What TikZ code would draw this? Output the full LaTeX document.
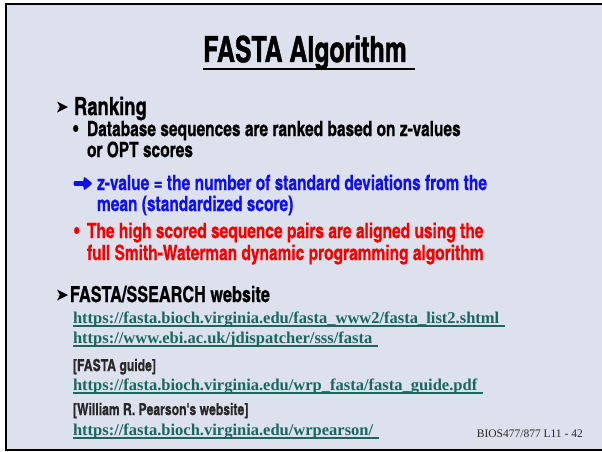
\documentclass[tikz,border=0pt]{standalone}
\usepackage{fontspec}
\setmainfont{Liberation Serif}
\newfontfamily\cond{TeX Gyre Heros Cn}[FakeStretch=0.9,BoldFeatures={FakeBold=0.6}]
\newfontfamily\condT{TeX Gyre Heros Cn}[FakeStretch=0.84,BoldFeatures={FakeBold=1.2}]
\definecolor{bg}{RGB}{221,224,237}
\definecolor{linkc}{RGB}{24,104,94}
\definecolor{zblue}{RGB}{16,16,235}
\definecolor{zred}{RGB}{245,0,0}
\definecolor{foot}{RGB}{40,40,40}
\begin{document}
\begin{tikzpicture}[x=1pt,y=-1pt,
  txt/.style={anchor=base west,inner sep=0pt,outer sep=0pt},
  body/.style={txt,text height=15.5pt,text depth=4.5pt,font=\cond\bfseries\fontsize{21}{24}\selectfont},
  head/.style={txt,font=\cond\bfseries\fontsize{25}{28}\selectfont},
  small/.style={txt,text=foot,font=\cond\bfseries\fontsize{16.5}{19}\selectfont},
  lnk/.style={txt,text=linkc,font=\bfseries\fontsize{16.5}{19}\selectfont},
  ulink/.style={linkc,line width=1.4pt},
  dart/.style={fill=black},
  bshape/.style={fill=zblue,draw=zblue,line width=0.8pt,line join=round}]
\useasboundingbox (0,0) rectangle (602,452);
\fill[white] (0,0) rectangle (602,452);
\fill[bg] (6,4) rectangle (602,450);
\draw[line width=2.5pt] (602,4) -- (6,4) -- (6,450) -- (602,450);

% title
\node[anchor=base,inner sep=0pt,font=\condT\bfseries\fontsize{36}{40}\selectfont] (title) at (305,62) {FASTA Algorithm};
\draw[line width=2.6pt] ([yshift=-7pt]title.base west) -- ([xshift=8pt,yshift=-7pt]title.base east);

% Ranking
\coordinate (a1) at (57,107);
\fill[dart] (a1) -- ++(11,0) -- ++(-11,-5.5) -- ++(3,5.5) -- ++(-3,5.5) -- ++(11,-5.5) -- cycle;
\node[head] (rank) at (74,115) {Ranking};
\node[body] (b1) at (73,136) {•};
\node[body] (t1) at (87,136) {Database sequences are ranked based on z-values};
\node[body] (t2) at (87,157) {or OPT scores};
\coordinate (bas) at (74,183.5);
\draw[bshape,rounded corners=1pt] (bas) -- ++(0,-2) -- ++(10,0) -- ++(0,-4.5) -- ++(8,6.5) -- ++(-8,6.5) -- ++(0,-4.5) -- ++(-10,0) -- cycle;
\node[body,text=zblue] (z1) at (97,190) {z-value = the number of standard deviations from the};
\node[body,text=zblue] (z2) at (97,211) {mean (standardized score)};
\node[body,text=zred] (b2) at (74,238) {•};
\node[body,text=zred] (r1) at (87,238) {The high scored sequence pairs are aligned using the};
\node[body,text=zred] (r2) at (87,260) {full Smith-Waterman dynamic programming algorithm};

% FASTA/SSEARCH website
\coordinate (a2) at (57,295);
\fill[dart] (a2) -- ++(11,0) -- ++(-11,-5.5) -- ++(3,5.5) -- ++(-3,5.5) -- ++(11,-5.5) -- cycle;
\node[body,font=\cond\bfseries\fontsize{22}{25}\selectfont] (web) at (70,302) {FASTA/SSEARCH website};
\node[lnk] (l1) at (73,323) {https://fasta.bioch.virginia.edu/fasta\_www2/fasta\_list2.shtml};
\draw[ulink] ([yshift=-3pt]l1.base west) -- ([xshift=6pt,yshift=-3pt]l1.base east);
\node[lnk] (l2) at (73,343) {https://www.ebi.ac.uk/jdispatcher/sss/fasta};
\draw[ulink] ([yshift=-3pt]l2.base west) -- ([xshift=6pt,yshift=-3pt]l2.base east);
\node[small] (g) at (73,371) {[FASTA guide]};
\node[lnk] (l3) at (73,390) {https://fasta.bioch.virginia.edu/wrp\_fasta/fasta\_guide.pdf};
\draw[ulink] ([yshift=-3pt]l3.base west) -- ([xshift=6pt,yshift=-3pt]l3.base east);
\node[small] (w) at (73,415) {[William R. Pearson's website]};
\node[lnk] (l4) at (73,435) {https://fasta.bioch.virginia.edu/wrpearson/};
\draw[ulink] ([yshift=-3pt]l4.base west) -- ([xshift=6pt,yshift=-3pt]l4.base east);

% footer
\node[anchor=base east,inner sep=0pt,text=foot,font=\fontsize{11.5}{13}\selectfont] (ft) at (583,437) {BIOS477/877 L11 - 42};
\end{tikzpicture}
\end{document}
